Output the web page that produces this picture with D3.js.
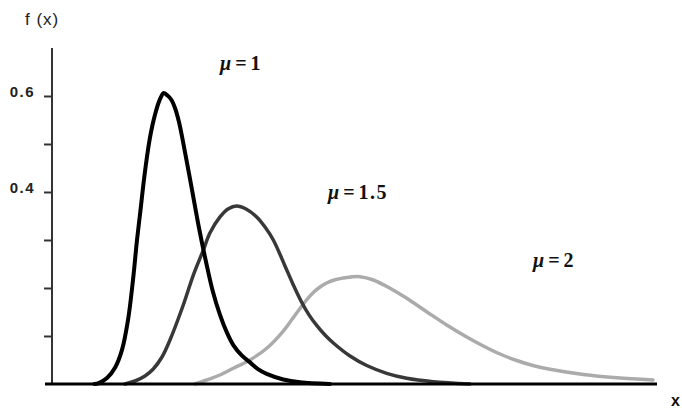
<!DOCTYPE html>
<html>
<head>
<meta charset="utf-8">
<script src="https://cdn.jsdelivr.net/npm/d3@7"></script>
<style>
  html, body { margin: 0; padding: 0; background: #fff; }
  svg { display: block; }
</style>
</head>
<body>
<div id="chart"></div>
<script>
// ---- data ----
const mu1X = [0.70, 0.772, 0.909, 1.046, 1.157, 1.256, 1.339, 1.405, 1.463, 1.529, 1.612, 1.661, 1.711, 1.760, 1.802, 1.840, 1.909, 1.975, 2.033, 2.099, 2.170, 2.309, 2.430, 2.557, 2.661, 2.777, 2.888, 2.997, 3.132, 3.273, 3.405, 3.549, 3.823, 4.099, 4.595];
const mu1Y = [0, 0.002, 0.0125, 0.035, 0.071, 0.133, 0.217, 0.300, 0.3625, 0.435, 0.508, 0.5396, 0.565, 0.5854, 0.598, 0.606, 0.601, 0.5917, 0.575, 0.5458, 0.502, 0.408, 0.325, 0.248, 0.1917, 0.144, 0.108, 0.081, 0.060, 0.045, 0.031, 0.021, 0.0094, 0.0035, 0];

const mu15X = [1.207, 1.372, 1.537, 1.674, 1.818, 1.950, 2.170, 2.336, 2.501, 2.612, 2.777, 2.909, 3.053, 3.207, 3.383, 3.521, 3.658, 3.851, 3.983, 4.116, 4.248, 4.375, 4.512, 4.650, 4.926, 5.202, 5.532, 5.863, 6.302, 6.909];
const mu15Y = [0, 0.00625, 0.0167, 0.03125, 0.05625, 0.0917, 0.1646, 0.227, 0.279, 0.315, 0.348, 0.3646, 0.371, 0.3646, 0.348, 0.327, 0.300, 0.246, 0.208, 0.173, 0.144, 0.122, 0.102, 0.0854, 0.0583, 0.0385, 0.0223, 0.0119, 0.0048, 0];

const mu2X = [2.364, 2.557, 2.777, 2.997, 3.273, 3.549, 3.823, 3.959, 4.099, 4.207, 4.319, 4.430, 4.540, 4.678, 4.815, 4.942, 5.091, 5.311, 5.587, 5.863, 6.193, 6.524, 6.855, 7.129, 7.405, 7.681, 7.950, 8.231, 8.782, 9.334, 9.934];
const mu2Y = [0, 0.0083, 0.01875, 0.0327, 0.050, 0.0744, 0.1104, 0.1333, 0.1573, 0.175, 0.1906, 0.2021, 0.2104, 0.2171, 0.2210, 0.2229, 0.2235, 0.2167, 0.1994, 0.1785, 0.1506, 0.1229, 0.0979, 0.0792, 0.0625, 0.0490, 0.0385, 0.0306, 0.0198, 0.0129, 0.0083];

const seriesNames = ["1", "1.5", "2"];
const yTicks = [0.1, 0.2, 0.3, 0.4, 0.5, 0.6];
const yTickLabels = ["", "", "", "0.4", "", "0.6"];

// ---- layout ----
const W = 682, H = 410;
const svg = d3.select("#chart").append("svg").attr("width", W).attr("height", H);

const x = d3.scaleLinear().domain([0, 10]).range([52, 657]);
const y = d3.scaleLinear().domain([0, 0.7]).range([384, 48]);

const series = [
  { name: seriesNames[0], xs: mu1X, ys: mu1Y, color: "#000000", width: 4 },
  { name: seriesNames[1], xs: mu15X, ys: mu15Y, color: "#383838", width: 3.5 },
  { name: seriesNames[2], xs: mu2X, ys: mu2Y, color: "#ababab", width: 3.5 }
];

const line = d3.line()
  .x(d => x(d[0]))
  .y(d => y(d[1]))
  .curve(d3.curveCatmullRom.alpha(0.5));

// draw lighter curves first so darker ones sit on top
[series[2], series[1], series[0]].forEach(s => {
  const pts = s.xs.map((v, i) => [v, s.ys[i]]);
  svg.append("path")
    .datum(pts)
    .attr("fill", "none")
    .attr("stroke", s.color)
    .attr("stroke-width", s.width)
    .attr("stroke-linejoin", "round")
    .attr("stroke-linecap", "round")
    .attr("d", line);
});

// y axis
const yAxis = d3.axisLeft(y)
  .tickValues(yTicks)
  .tickSize(8)
  .tickPadding(9)
  .tickFormat((d, i) => yTickLabels[i]);

const gy = svg.append("g").attr("transform", `translate(${x(0)},0)`).call(yAxis);
gy.select(".domain").remove();
gy.selectAll(".tick line").attr("stroke", "#333").attr("stroke-width", 2);
gy.selectAll(".tick text")
  .attr("font-family", "Liberation Sans, Arial, sans-serif")
  .attr("font-size", 15)
  .attr("font-weight", "bold")
  .attr("letter-spacing", "1.5px")
  .attr("fill", "#222")
  .attr("dy", "0.05em");

svg.append("line")
  .attr("x1", x(0)).attr("x2", x(0))
  .attr("y1", y(0.7)).attr("y2", y(0))
  .attr("stroke", "#333").attr("stroke-width", 2);

// x axis line
svg.append("line")
  .attr("x1", x(0) - 7).attr("x2", x(10))
  .attr("y1", y(0)).attr("y2", y(0))
  .attr("stroke", "#000").attr("stroke-width", 3);

// axis titles
svg.append("text")
  .attr("x", 25).attr("y", 25)
  .attr("font-family", "Liberation Sans, Arial, sans-serif")
  .attr("font-size", 17)
  .attr("letter-spacing", "1px")
  .attr("fill", "#222")
  .text("f (x)");

svg.append("text")
  .attr("x", 671).attr("y", 406)
  .attr("font-family", "Liberation Sans, Arial, sans-serif")
  .attr("font-size", 16)
  .attr("font-weight", "bold")
  .attr("fill", "#111")
  .text("x");

// curve labels
const labelPos = [[220, 70], [328, 199], [533, 267]];
series.forEach((s, i) => {
  const t = svg.append("text")
    .attr("x", labelPos[i][0]).attr("y", labelPos[i][1])
    .attr("font-family", "Liberation Serif, Times New Roman, serif")
    .attr("font-size", 20)
    .attr("font-weight", "bold")
    .attr("fill", "#111");
  t.append("tspan").attr("font-style", "italic").text("μ");
  t.append("tspan").attr("dx", 4).text("=");
  t.append("tspan").attr("dx", 4).attr("letter-spacing", "1.5px").text(s.name);
});
</script>
</body>
</html>
